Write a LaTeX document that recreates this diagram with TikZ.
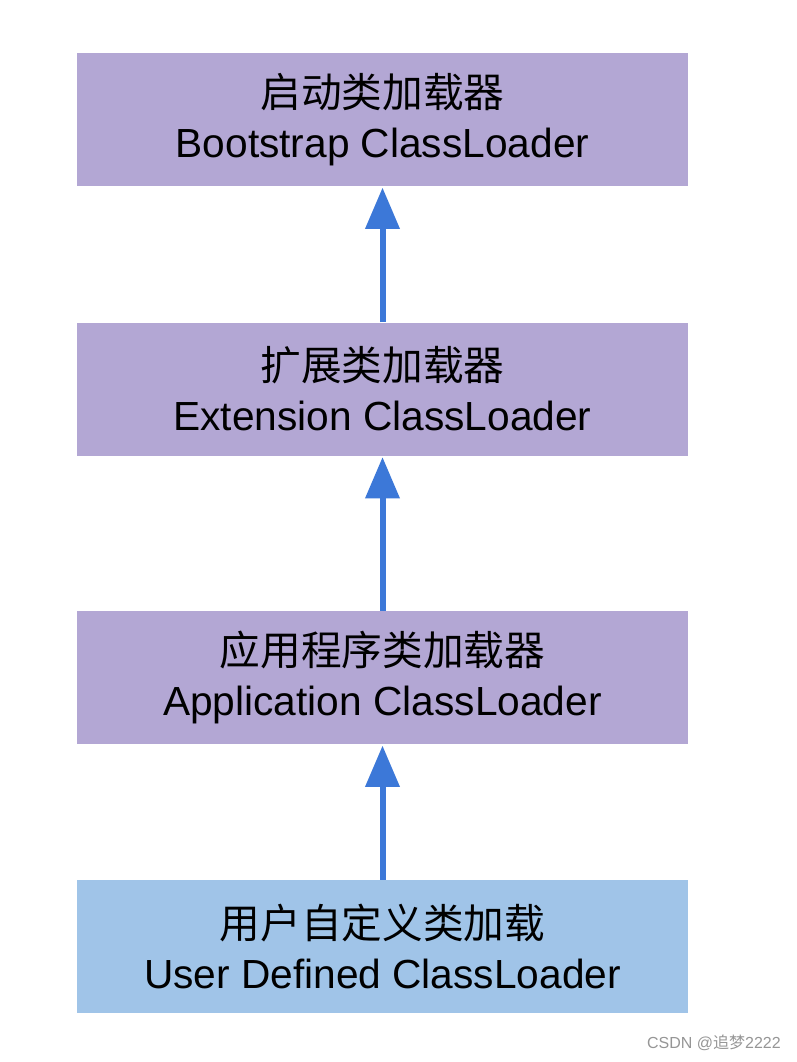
\documentclass[tikz,border=0pt]{standalone}
\usepackage{fontspec}
\setmainfont{Liberation Sans}
\newfontfamily\cjk{Noto Sans CJK SC}
\usetikzlibrary{arrows.meta}
\definecolor{boxpurple}{RGB}{179,167,212}
\definecolor{boxblue}{RGB}{160,196,232}
\definecolor{arrowblue}{RGB}{60,120,216}
\definecolor{wmgray}{RGB}{150,150,150}
\begin{document}
\begin{tikzpicture}[x=0.75pt,y=-0.75pt,
  loader/.style={fill=boxpurple, draw=none, minimum width=458.25pt, minimum height=99.75pt,
    align=center, inner sep=0pt, font=\fontsize{30.5pt}{37.5pt}\selectfont},
  userloader/.style={loader, fill=boxblue},
  uparrow/.style={draw=arrowblue, line width=4.5pt,
    -{Triangle[width=25pt,length=31pt]}, shorten >=1pt}]
\useasboundingbox (0,0) rectangle (796,1062);
\fill[white] (0,0) rectangle (796,1062);
\node[loader] (b1) at (382.5,119.5) {{\cjk 启动类加载器}\\Bootstrap ClassLoader};
\node[loader] (b2) at (382.5,389) {{\cjk 扩展类加载器}\\Extension ClassLoader};
\node[loader] (b3) at (382.5,677.5) {{\cjk 应用程序类加载器}\\Application ClassLoader};
\node[userloader] (b4) at (382.5,946.5) {{\cjk 用户自定义类加载}\\User Defined ClassLoader};
\draw[uparrow] (b2.north) -- (b1.south);
\draw[uparrow] (b3.north) -- (b2.south);
\draw[uparrow] (b4.north) -- (b3.south);
\node[text=wmgray, font=\fontsize{12pt}{14pt}\selectfont, anchor=east, inner sep=0pt] (wm) at (781,1043) {CSDN @{\cjk 追梦}2222};
\end{tikzpicture}
\end{document}
